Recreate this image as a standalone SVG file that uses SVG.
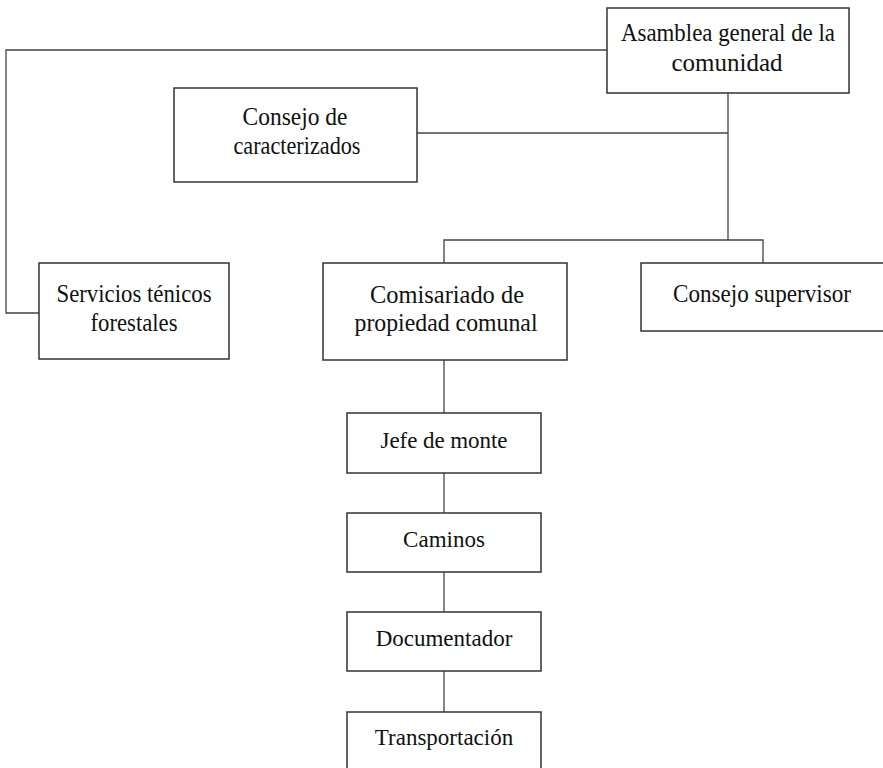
<svg xmlns="http://www.w3.org/2000/svg" width="883" height="768" viewBox="0 0 883 768">
<style>
.box{fill:#fff;stroke:#333;stroke-width:1.5}
.ln{fill:none;stroke:#444;stroke-width:1.3}
text{font-family:"Liberation Serif","Times New Roman",serif;font-size:23px;fill:#111;text-anchor:middle}
text.up{font-size:25.5px}
</style>
<rect width="883" height="768" fill="#fff"/>
<g id="connectors">
<polyline class="ln" points="607,50 6,50 6,313 39,313"/>
<line class="ln" x1="728" y1="93" x2="728" y2="240"/>
<line class="ln" x1="417" y1="133" x2="728" y2="133"/>
<polyline class="ln" points="444,263 444,240 763,240 763,263"/>
<line class="ln" x1="444" y1="360" x2="444" y2="413"/>
<line class="ln" x1="444" y1="473" x2="444" y2="513"/>
<line class="ln" x1="444" y1="572" x2="444" y2="612"/>
<line class="ln" x1="444" y1="671" x2="444" y2="712"/>
</g>
<g id="asamblea">
<rect class="box" x="607" y="8" width="242" height="85"/>
<text class="up" x="728" y="41" textLength="214" lengthAdjust="spacingAndGlyphs">Asamblea general de la</text>
<text class="up" x="727" y="71" textLength="111" lengthAdjust="spacingAndGlyphs">comunidad</text>
</g>
<g id="consejo-caracterizados">
<rect class="box" x="174" y="88" width="243" height="94"/>
<text class="up" x="295" y="125" textLength="105" lengthAdjust="spacingAndGlyphs">Consejo de</text>
<text class="up" x="297" y="154" textLength="127" lengthAdjust="spacingAndGlyphs">caracterizados</text>
</g>
<g id="servicios">
<rect class="box" x="39" y="263" width="190" height="96"/>
<text class="up" x="134" y="302" textLength="155" lengthAdjust="spacingAndGlyphs">Servicios ténicos</text>
<text class="up" x="134" y="331" textLength="87" lengthAdjust="spacingAndGlyphs">forestales</text>
</g>
<g id="comisariado">
<rect class="box" x="323" y="263" width="244" height="97"/>
<text class="up" x="447" y="303" textLength="154" lengthAdjust="spacingAndGlyphs">Comisariado de</text>
<text class="up" x="446" y="331" textLength="183" lengthAdjust="spacingAndGlyphs">propiedad comunal</text>
</g>
<g id="consejo-supervisor">
<rect class="box" x="641" y="263" width="250" height="68"/>
<text class="up" x="762" y="302" textLength="178" lengthAdjust="spacingAndGlyphs">Consejo supervisor</text>
</g>
<g id="jefe">
<rect class="box" x="347" y="413" width="194" height="60"/>
<text x="444" y="448" textLength="127">Jefe de monte</text>
</g>
<g id="caminos">
<rect class="box" x="347" y="513" width="194" height="59"/>
<text x="444" y="547">Caminos</text>
</g>
<g id="documentador">
<rect class="box" x="347" y="612" width="194" height="59"/>
<text x="444" y="646">Documentador</text>
</g>
<g id="transportacion">
<rect class="box" x="347" y="712" width="194" height="70"/>
<text x="444" y="745">Transportación</text>
</g>
</svg>
